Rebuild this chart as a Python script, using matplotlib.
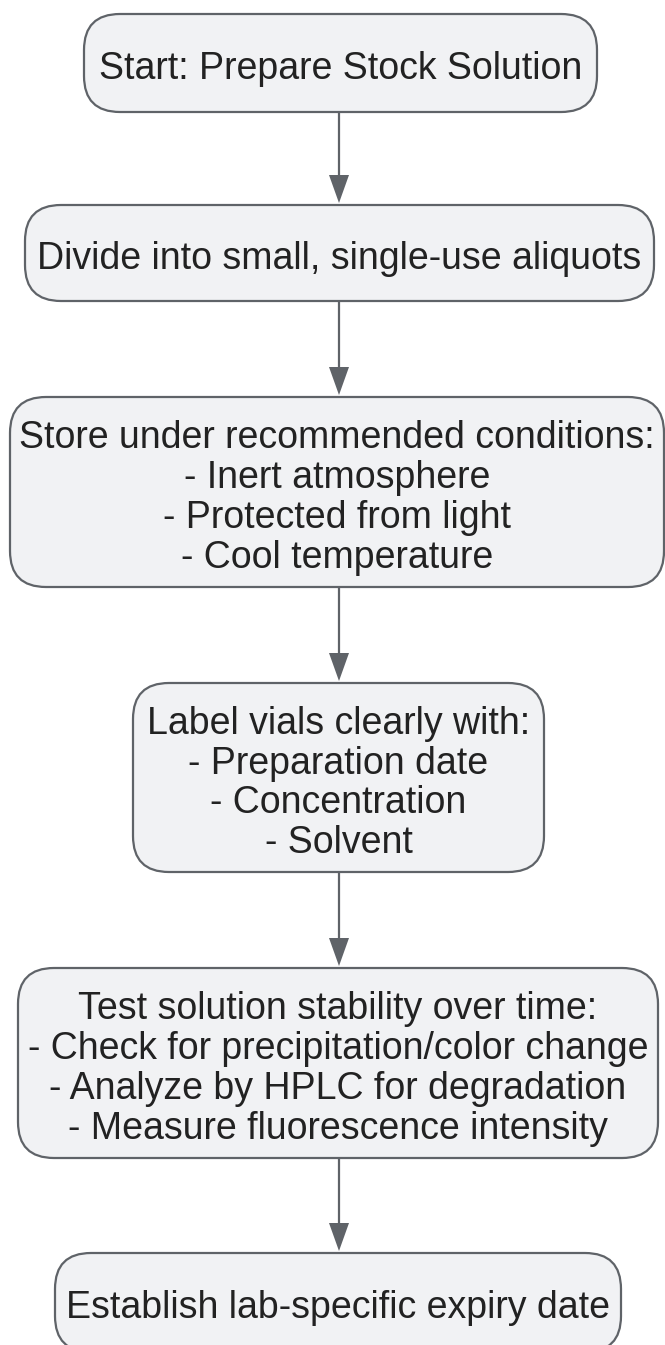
import matplotlib.pyplot as plt
from matplotlib.patches import FancyBboxPatch

# node labels, top to bottom
labels = [
    "Start: Prepare Stock Solution",
    "Divide into small, single-use aliquots",
    "Store under recommended conditions:\n- Inert atmosphere\n- Protected from light\n- Cool temperature",
    "Label vials clearly with:\n- Preparation date\n- Concentration\n- Solvent",
    "Test solution stability over time:\n- Check for precipitation/color change\n- Analyze by HPLC for degradation\n- Measure fluorescence intensity",
    "Establish lab-specific expiry date",
]

# layout in pixels (x0, x1, y0, y1)
boxes = [
    (84, 597, 14, 112),
    (25, 654, 205, 301),
    (10, 664, 397, 587),
    (133, 544, 683, 872),
    (18, 658, 968, 1158),
    (55, 621, 1253, 1352),
]
cx = 339
fill = "#f1f2f4"
edge = "#5f6368"

W, H = 665, 1345
fig = plt.figure(figsize=(W / 100, H / 100), dpi=100)
ax = fig.add_axes([0, 0, 1, 1])
ax.set_xlim(0, W)
ax.set_ylim(H, 0)
ax.axis("off")

plt.rcParams["font.family"] = ["Liberation Sans", "DejaVu Sans"]

for lab, (x0, x1, y0, y1) in zip(labels, boxes):
    p = FancyBboxPatch((x0, y0), x1 - x0, y1 - y0,
                       boxstyle="round,pad=0,rounding_size=36",
                       fc=fill, ec=edge, lw=1.6, zorder=2)
    ax.add_patch(p)
    ax.text((x0 + x1) / 2, (y0 + y1) / 2 + 6, lab, ha="center", va="center",
            fontsize=27, color="#222222", linespacing=1.14, zorder=3,
            family=["Liberation Sans", "DejaVu Sans"])

# arrows between consecutive boxes
for a, b in zip(boxes[:-1], boxes[1:]):
    ytop = a[3]
    ybot = b[2]
    ax.plot([cx, cx], [ytop, ybot - 28], color=edge, lw=1.6, zorder=1)
    ax.fill([cx - 10, cx + 10, cx], [ybot - 30, ybot - 30, ybot - 2],
            color=edge, zorder=1, lw=0)

fig.savefig("out.png", dpi=100, facecolor="white")
